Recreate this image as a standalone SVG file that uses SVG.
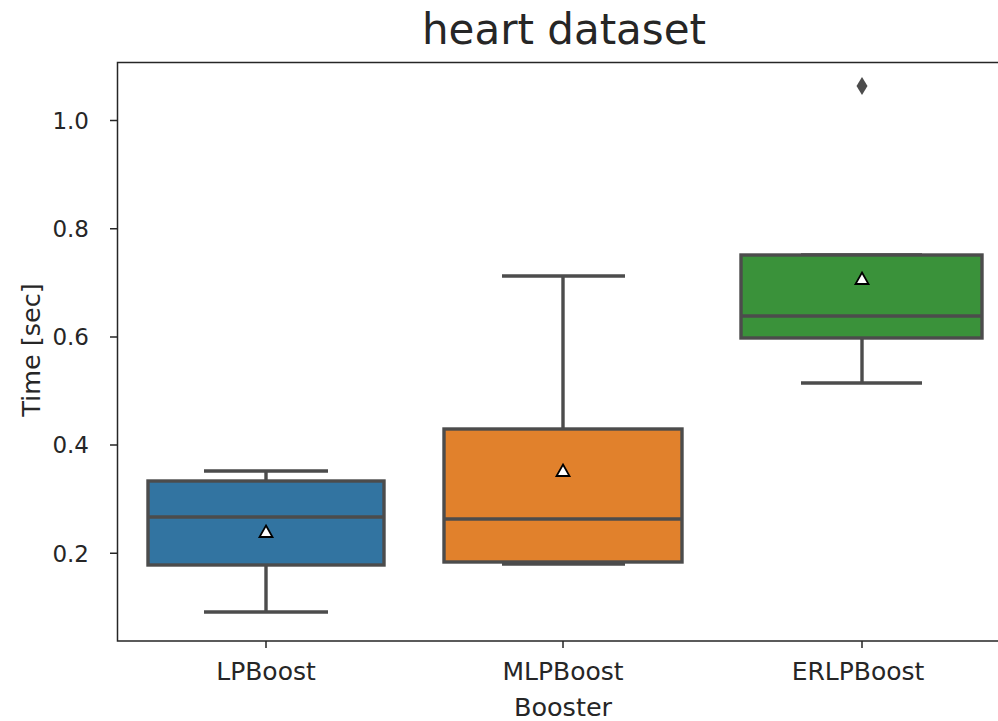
<svg xmlns="http://www.w3.org/2000/svg" width="998" height="721" viewBox="0 0 998 721">
<style>
.t{font-family:"DejaVu Sans",sans-serif;fill:#262626}
.yt{font-size:23px}
.xt{font-size:25px}
.lab{font-size:25.5px}
.title{font-size:42px}
.ln{stroke:#4c4c4c;stroke-width:3.4;fill:none}
.box{stroke:#4c4c4c;stroke-width:3.4}
.sp{stroke:#262626;stroke-width:1.5;fill:none}
.mean{fill:#ffffff;stroke:#000;stroke-width:1.8}
</style>
<rect width="998" height="721" fill="#fff"/>
<text class="t title" x="564" y="44" text-anchor="middle">heart dataset</text>
<g id="axes">
<path class="sp" d="M999 62.5H117.5V641H999"/>
<g class="sp">
<path d="M110 120.5H117.5M110 228.7H117.5M110 336.9H117.5M110 445.1H117.5M110 553.3H117.5"/>
<path d="M266 641V648M563 641V648M862 641V648"/>
</g>
<g class="t yt" text-anchor="end">
<text x="89" y="128.8">1.0</text>
<text x="89" y="237">0.8</text>
<text x="89" y="345.2">0.6</text>
<text x="89" y="453.4">0.4</text>
<text x="89" y="561.6">0.2</text>
</g>
<g class="t xt" text-anchor="middle">
<text x="266" y="680">LPBoost</text>
<text x="563" y="680">MLPBoost</text>
<text x="858" y="680">ERLPBoost</text>
</g>
<text class="t lab" x="563" y="716" text-anchor="middle">Booster</text>
<text class="t lab" transform="translate(40 350) rotate(-90)" text-anchor="middle">Time [sec]</text>
</g>
<g id="LPBoost">
<path class="ln" d="M266 481V471M204 471H328M266 565V612M204 612H328"/>
<rect class="box" x="148" y="481" width="236" height="84" fill="#3274a1"/>
<path class="ln" d="M148 517H384"/>
<path class="mean" d="M266 525.5L272.5 537H259.5Z"/>
</g>
<g id="MLPBoost">
<path class="ln" d="M563 429V276M502 276H625M502 564H625"/>
<rect class="box" x="444" y="429" width="238" height="133" fill="#e1812c"/>
<path class="ln" d="M444 519H682"/>
<path class="mean" d="M563 464.5L569.5 476H556.5Z"/>
</g>
<g id="ERLPBoost">
<path class="ln" d="M801 255H922M862 338V383M801 383H922"/>
<rect class="box" x="741" y="255" width="241" height="83" fill="#3a923a"/>
<path class="ln" d="M741 316H982"/>
<path class="mean" d="M862 272.5L868.5 284H855.5Z"/>
<path d="M862 77L867.5 86L862 95L856.5 86Z" fill="#4c4c4c"/>
</g>
</svg>
